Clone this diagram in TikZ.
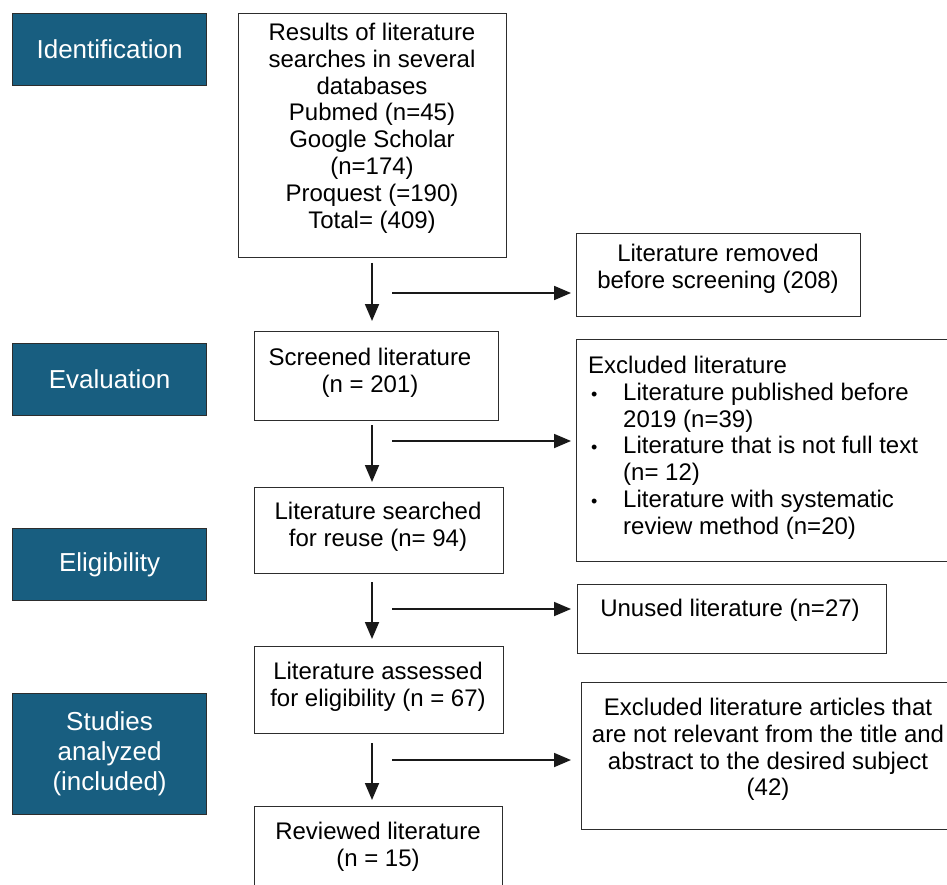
\documentclass[tikz,border=0pt]{standalone}
\usepackage{fontspec}
\setmainfont{Liberation Sans}
\usetikzlibrary{arrows.meta}
\definecolor{teal1}{RGB}{24,94,128}
\definecolor{edge}{RGB}{45,45,45}
\newcommand{\bul}{\hspace*{3pt}\makebox[32pt][l]{\fontsize{18}{18}\selectfont•}}
\begin{document}
\begin{tikzpicture}[x=1pt,y=-1pt,
  box/.style={draw=edge, line width=1.2pt, rectangle, inner sep=0pt, anchor=north west},
  lab/.style={box, fill=teal1, text=white, font=\fontsize{26}{30}\selectfont, align=center, minimum width=194pt},
  txt/.style={inner sep=0pt, anchor=north, align=center, font=\fontsize{24}{26.8}\selectfont},
  arr/.style={line width=1.8pt, draw=black!90, -{Triangle[length=17pt,width=14pt]}}]
\useasboundingbox (0,0) rectangle (947,885);
\clip (0,0) rectangle (947,885);
% phase labels
\node[lab, minimum height=72pt] (l1) at (12,13) {Identification};
\node[lab, minimum height=72pt] (l2) at (12,343) {Evaluation};
\node[lab, minimum height=72pt] (l3) at (12,528) {Eligibility};
\node[lab, minimum height=121pt] (l4) at (12,693) {Studies\\analyzed\\(included)};
% main column boxes
\node[box, minimum width=268pt, minimum height=244pt] (b1) at (238,13) {};
\node[txt] (t1) at (372,23) {Results of literature\\searches in several\\databases\\Pubmed (n=45)\\Google Scholar\\(n=174)\\Proquest (=190)\\Total= (409)};
\node[box, minimum width=244pt, minimum height=89pt] (b2) at (254,331) {};
\node[txt] (t2) at (370,348) {Screened literature\\(n = 201)};
\node[box, minimum width=249pt, minimum height=86pt] (b3) at (254,487) {};
\node[txt] (t3) at (378,502) {Literature searched\\for reuse (n= 94)};
\node[box, minimum width=249pt, minimum height=87pt] (b4) at (254,646) {};
\node[txt] (t4) at (378,662) {Literature assessed\\for eligibility (n = 67)};
\node[box, minimum width=248pt, minimum height=110pt] (b5) at (254,806) {};
\node[txt] (t5) at (378,822) {Reviewed literature\\(n = 15)};
% right column boxes
\node[box, minimum width=284pt, minimum height=83pt] (r1) at (576,233) {};
\node[txt] (s1) at (718,244) {Literature removed\\before screening (208)};
\node[box, minimum width=380pt, minimum height=222pt] (r2) at (576,339) {};
\node[txt, anchor=north west, align=left] (s2) at (588,356) {Excluded literature\\
\bul Literature published before\\
\hspace*{35pt}2019 (n=39)\\
\bul Literature that is not full text\\
\hspace*{35pt}(n= 12)\\
\bul Literature with systematic\\
\hspace*{35pt}review method (n=20)};
\node[box, minimum width=309pt, minimum height=69pt] (r3) at (577,584) {};
\node[txt] (s3) at (730,599) {Unused literature (n=27)};
\node[box, minimum width=374pt, minimum height=147pt] (r4) at (581,682) {};
\node[txt] (s4) at (768,698) {Excluded literature articles that\\are not relevant from the title and\\abstract to the desired subject\\(42)};
% down arrows
\coordinate (d1) at (372,263);
\coordinate (d2) at (372,425);
\coordinate (d3) at (372,582);
\coordinate (d4) at (372,743);
\draw[arr, shorten >=10pt] (d1) -- (d1 |- b2.north);
\draw[arr, shorten >=5pt] (d2) -- (d2 |- b3.north);
\draw[arr, shorten >=7pt] (d3) -- (d3 |- b4.north);
\draw[arr, shorten >=6pt] (d4) -- (d4 |- b5.north);
% side arrows
\coordinate (h1) at (392,293);
\coordinate (h2) at (392,441);
\coordinate (h3) at (392,609);
\coordinate (h4) at (392,760);
\draw[arr, shorten >=5pt] (h1) -- (h1 -| r1.west);
\draw[arr, shorten >=5pt] (h2) -- (h2 -| r2.west);
\draw[arr, shorten >=6pt] (h3) -- (h3 -| r3.west);
\draw[arr, shorten >=10pt] (h4) -- (h4 -| r4.west);
\end{tikzpicture}
\end{document}
